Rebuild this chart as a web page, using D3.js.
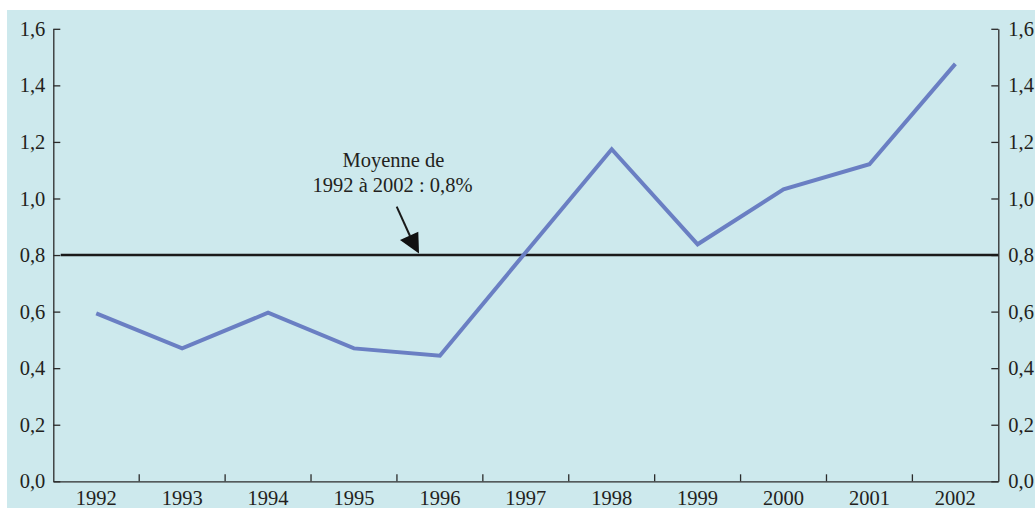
<!DOCTYPE html>
<html><head><meta charset="utf-8">
<script src="https://cdn.jsdelivr.net/npm/d3@7"></script>
<style>
html,body{margin:0;padding:0;background:#fff;}
svg{display:block;}
svg text{font-family:"Liberation Serif","Times New Roman",Times,"DejaVu Serif",serif !important;fill:#231f20;}
</style></head>
<body>
<svg id="c" width="1035" height="508"></svg>
<script>
const years = ["1992","1993","1994","1995","1996","1997","1998","1999","2000","2001","2002"];
const values = [0.594, 0.470, 0.596, 0.470, 0.444, 0.81, 1.174, 0.838, 1.032, 1.121, 1.476];
const yTicks = [0,0.2,0.4,0.6,0.8,1.0,1.2,1.4,1.6];
const average = 0.8;
const annotationLines = ["Moyenne de","1992 à 2002 : 0,8%"];

const W=1035,H=508;
const L=53.3,R=998.3,T=28.8,B=481.3;
const fs=20.5;
const FF='"Liberation Serif","Times New Roman",Times,"DejaVu Serif",serif';
const svg=d3.select("#c");
svg.append("rect").attr("x",7).attr("y",10).attr("width",W-7).attr("height",H-10).attr("fill","#cde9ed");

const x=d3.scaleBand().domain(years).range([L,R]).padding(0);
const y=d3.scaleLinear().domain([0,1.6]).range([B,T]);
const fmt=d=>d.toFixed(1).replace(".",",");
const axisColor="#2b2b2b";

const gl=svg.append("g").attr("transform",`translate(${L},0)`)
  .call(d3.axisLeft(y).tickValues(yTicks).tickSizeInner(-7).tickSizeOuter(0).tickFormat(fmt).tickPadding(8));
const gr=svg.append("g").attr("transform",`translate(${R},0)`)
  .call(d3.axisRight(y).tickValues(yTicks).tickSizeInner(-7).tickSizeOuter(0).tickFormat(fmt).tickPadding(10));
[gl,gr].forEach(g=>{
  g.attr("font-family",FF).attr("font-size",fs);
  g.select(".domain").attr("stroke",axisColor).attr("stroke-width",1.3);
  g.selectAll(".tick line").attr("stroke",axisColor).attr("stroke-width",1.3);
  g.selectAll(".tick text").attr("fill","#231f20");
});

const gb=svg.append("g").attr("transform",`translate(0,${B})`)
  .call(d3.axisBottom(x).tickSize(0).tickPadding(9));
gb.attr("font-family",FF).attr("font-size",fs);
gb.select(".domain").attr("stroke",axisColor).attr("stroke-width",1.3);
gb.selectAll(".tick text").attr("fill","#231f20");
gb.selectAll(".tick line").remove();
svg.append("g").selectAll("line").data(years.slice(1)).join("line")
  .attr("x1",d=>x(d)).attr("x2",d=>x(d)).attr("y1",B).attr("y2",B-7)
  .attr("stroke",axisColor).attr("stroke-width",1.3);

svg.append("line").attr("x1",L+7.4).attr("x2",R).attr("y1",y(average)).attr("y2",y(average))
  .attr("stroke","#1a1a1a").attr("stroke-width",2.6);

const line=d3.line().x((d,i)=>x(years[i])+x.bandwidth()/2).y(d=>y(d));
svg.append("path").datum(values).attr("d",line).attr("fill","none")
  .attr("stroke","#6a7fc3").attr("stroke-width",4).attr("stroke-linejoin","miter");

const tipX=419, tipY=y(average)-1.5;
svg.append("line").attr("x1",396.7).attr("y1",206.7).attr("x2",410).attr("y2",236)
  .attr("stroke","#1a1a1a").attr("stroke-width",2);
svg.append("path").attr("d",`M${tipX},${tipY} L400,240 L418.3,231.7 Z`).attr("fill","#111");
const ta=svg.append("text").attr("text-anchor","middle").attr("font-size",fs).attr("font-family",FF);
ta.append("tspan").attr("x",393.5).attr("y",167.3).text(annotationLines[0]);
ta.append("tspan").attr("x",392.5).attr("y",192.3).text(annotationLines[1]);
</script>
</body></html>
